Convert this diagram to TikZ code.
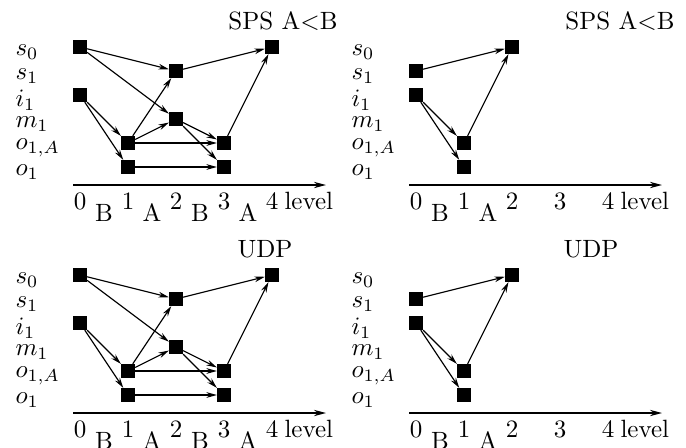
\documentclass[tikz,border=0pt]{standalone}
\usepackage{tikz}
\usetikzlibrary{arrows.meta}

% row names on the left of a panel
\newcommand{\rowlabels}[1]{%
  \foreach \n/\t/\y in {s0/s_0/52, s1/s_1/76, i1/i_1/100, m1/m_1/124, oa/{o_{1,A}}/148, o1/o_1/172}
    \node[rowlab] (#1-lab-\n) at (15,\y) {$\t$};
}
% level axis with its numbers
\newcommand{\levelaxis}[1]{%
  \coordinate (#1-ax0) at (73,185);
  \coordinate (#1-ax1) at (326,185);
  \draw[axis] (#1-ax0) -- (#1-ax1);
  \foreach \k in {0,...,4}
    \node[tick] (#1-t\k) at (80+48*\k,209) {\k};
  \node[tick, anchor=base west] (#1-lvl) at (284,209) {level};
}

\begin{document}
\begin{tikzpicture}[x=0.40pt, y=-0.40pt,
    sq/.style={fill=black, inner sep=0pt, minimum size=5.3pt},
    arr/.style={-{Stealth[length=4.2pt, width=2.3pt]}, line width=0.45pt},
    axis/.style={-{Stealth[length=4.8pt, width=2.5pt]}, line width=0.7pt},
    rowlab/.style={anchor=west, inner sep=0pt},
    tick/.style={inner sep=0pt, anchor=base}]

\useasboundingbox (0,0) rectangle (686,447);

% full graph, top and bottom left
\foreach \p/\dy/\ttl/\tx in {tl/0/{SPS A$<$B}/283, bl/228/UDP/265} {
\begin{scope}[shift={(0,\dy)}]
  \node[tick] (\p-title) at (\tx,29) {\ttl};
  \rowlabels{\p}
  \levelaxis{\p}
  \foreach \m/\c in {0/B,1/A,2/B,3/A}
    \node[tick] (\p-m\m) at (104+48*\m,221) {\c};
  \node[sq] (\p-s0-0) at (80,47) {};
  \node[sq] (\p-i1-0) at (80,95) {};
  \node[sq] (\p-oa-1) at (128,143) {};
  \node[sq] (\p-o1-1) at (128,167) {};
  \node[sq] (\p-s1-2) at (176,71) {};
  \node[sq] (\p-m1-2) at (176,119) {};
  \node[sq] (\p-oa-3) at (224,143) {};
  \node[sq] (\p-o1-3) at (224,167) {};
  \node[sq] (\p-s0-4) at (272,47) {};
  \draw[arr] (\p-s0-0) -- (\p-s1-2);
  \draw[arr] (\p-s0-0) -- (\p-m1-2);
  \draw[arr] (\p-i1-0) -- (\p-oa-1);
  \draw[arr] (\p-i1-0) -- (\p-o1-1);
  \draw[arr] (\p-oa-1) -- (\p-s1-2);
  \draw[arr] (\p-oa-1) -- (\p-m1-2);
  \draw[arr] (\p-oa-1) -- (\p-oa-3);
  \draw[arr] (\p-o1-1) -- (\p-o1-3);
  \draw[arr] (\p-m1-2) -- (\p-oa-3);
  \draw[arr] (\p-m1-2) -- (\p-o1-3);
  \draw[arr] (\p-s1-2) -- (\p-s0-4);
  \draw[arr] (\p-oa-3) -- (\p-s0-4);
\end{scope}
}

% reduced graph, top and bottom right
\foreach \p/\dy/\ttl/\tx in {tr/0/{SPS A$<$B}/284, br/228/UDP/255} {
\begin{scope}[shift={(336,\dy)}]
  \node[tick] (\p-title) at (\tx,29) {\ttl};
  \rowlabels{\p}
  \levelaxis{\p}
  \foreach \m/\c in {0/B,1/A}
    \node[tick] (\p-m\m) at (104+48*\m,221) {\c};
  \node[sq] (\p-s1-0) at (80,71) {};
  \node[sq] (\p-i1-0) at (80,95) {};
  \node[sq] (\p-oa-1) at (128,143) {};
  \node[sq] (\p-o1-1) at (128,167) {};
  \node[sq] (\p-s0-2) at (176,47) {};
  \draw[arr] (\p-s1-0) -- (\p-s0-2);
  \draw[arr] (\p-i1-0) -- (\p-oa-1);
  \draw[arr] (\p-i1-0) -- (\p-o1-1);
  \draw[arr] (\p-oa-1) -- (\p-s0-2);
\end{scope}
}
\end{tikzpicture}
\end{document}
